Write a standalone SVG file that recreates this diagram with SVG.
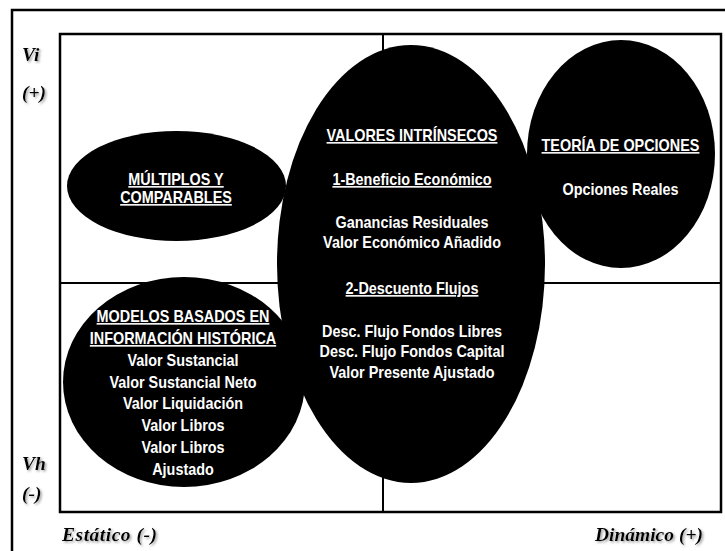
<svg xmlns="http://www.w3.org/2000/svg" width="725" height="551" viewBox="0 0 725 551">
<defs>
<filter id="sh" x="-20%" y="-30%" width="150%" height="170%">
<feDropShadow dx="1.5" dy="1.5" stdDeviation="0.8" flood-color="#888888" flood-opacity="0.8"/>
</filter>
</defs>
<style>
.frame{fill:none;stroke:#000;stroke-width:2.5}
.grid{fill:none;stroke:#000;stroke-width:2}
.blob{fill:#000;stroke:none}
.t{font-family:"Liberation Sans",Arial,sans-serif;font-weight:bold;font-size:16px;fill:#fff;text-anchor:middle}
.u{text-decoration:underline}
.ax{font-family:"Liberation Serif","Times New Roman",serif;font-weight:bold;font-style:italic;font-size:19.5px;fill:#000;filter:url(#sh)}
</style>
<rect width="725" height="551" fill="#fff"/>
<polyline class="frame" points="12,551 12,10 725,10"/>
<g id="quadrants">
<rect class="frame" x="60" y="34" width="661" height="478"/>
<line class="grid" x1="60" y1="283" x2="721" y2="283"/>
<line class="grid" x1="383" y1="34" x2="383" y2="512"/>
</g>
<g id="axes">
<text class="ax" x="22" y="61">Vi</text>
<text class="ax" x="22" y="99">(+)</text>
<text class="ax" x="22" y="470">Vh</text>
<text class="ax" x="22" y="500">(-)</text>
<text class="ax" x="62" y="541" textLength="95">Estático (-)</text>
<text class="ax" x="703" y="541" text-anchor="end">Dinámico (+)</text>
</g>
<g id="connectors"></g>
<g id="multiplos">
<ellipse class="blob" cx="176.5" cy="186" rx="109.5" ry="55"/>
<text class="t u" transform="translate(176 185) scale(0.9 1)">MÚLTIPLOS Y </text>
<text class="t u" transform="translate(176 203) scale(0.9 1)">COMPARABLES</text>
</g>
<g id="modelos">
<ellipse class="blob" cx="184" cy="382" rx="121" ry="105"/>
<text class="t u" transform="translate(183 322) scale(0.9 1)">MODELOS BASADOS EN</text>
<text class="t u" transform="translate(183 344) scale(0.9 1)">INFORMACIÓN HISTÓRICA</text>
<text class="t" transform="translate(183 366) scale(0.9 1)">Valor Sustancial</text>
<text class="t" transform="translate(183 388) scale(0.9 1)">Valor Sustancial Neto</text>
<text class="t" transform="translate(183 409) scale(0.9 1)">Valor Liquidación</text>
<text class="t" transform="translate(183 431) scale(0.9 1)">Valor Libros</text>
<text class="t" transform="translate(183 453) scale(0.9 1)">Valor Libros</text>
<text class="t" transform="translate(183 475) scale(0.9 1)">Ajustado</text>
</g>
<g id="intrinsecos">
<ellipse class="blob" cx="411" cy="264" rx="134" ry="219"/>
<text class="t u" transform="translate(412 141) scale(0.9 1)">VALORES INTRÍNSECOS</text>
<text class="t u" transform="translate(412 185) scale(0.9 1)">1-Beneficio Económico</text>
<text class="t" transform="translate(412 228) scale(0.9 1)">Ganancias Residuales</text>
<text class="t" transform="translate(412 248) scale(0.9 1)">Valor Económico Añadido</text>
<text class="t u" transform="translate(412 294) scale(0.9 1)">2-Descuento Flujos</text>
<text class="t" transform="translate(412 337) scale(0.9 1)">Desc. Flujo Fondos Libres</text>
<text class="t" transform="translate(412 357) scale(0.9 1)">Desc. Flujo Fondos Capital</text>
<text class="t" transform="translate(412 378) scale(0.9 1)">Valor Presente Ajustado</text>
</g>
<g id="opciones">
<ellipse class="blob" cx="621" cy="154" rx="94" ry="114"/>
<text class="t u" transform="translate(620.5 151) scale(0.9 1)">TEORÍA DE OPCIONES</text>
<text class="t" transform="translate(620.5 195) scale(0.9 1)">Opciones Reales</text>
</g>
</svg>
